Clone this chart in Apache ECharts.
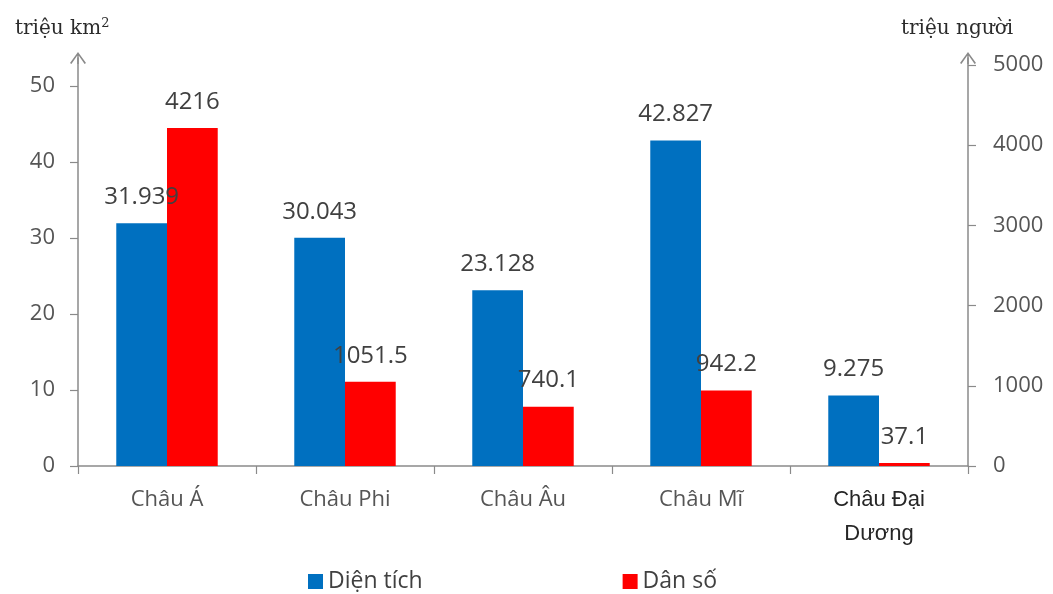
<!DOCTYPE html>
<html>
<head>
<meta charset="utf-8">
<script src="https://cdn.jsdelivr.net/npm/echarts@6/dist/echarts.min.js"></script>
<style>html,body{margin:0;padding:0;background:#fff}#c{width:1053px;height:594px}</style>
</head>
<body>
<div id="c"></div>
<script>
const categories = ['Châu Á', 'Châu Phi', 'Châu Âu', 'Châu Mĩ', 'Châu Đại\nDương'];
const areaValues = [31.939, 30.043, 23.128, 42.827, 9.275];
const populationValues = [4216, 1051.5, 740.1, 942.2, 37.1];
const leftTicks = [0, 10, 20, 30, 40, 50];
const rightTicks = [0, 1000, 2000, 3000, 4000, 5000];
const seriesNames = ['Diện tích', 'Dân số'];

const axisColor = '#8a8a8a';
const arrowPath = 'path://M0 11 L8 0 L16 11 L14.6 12 L8 2.6 L1.4 12 Z M7.3 1 L8.7 1 L8.7 12 L7.3 12 Z';
const labelFont = '"Open Sans", sans-serif';
const serifFont = '"DejaVu Serif", serif';

function yAxisBase(max, ticks, margin) {
  return {
    type: 'value', min: 0, max: max,
    splitLine: { show: false },
    axisLine: { show: true, lineStyle: { color: axisColor, width: 1.5 },
      symbol: ['none', arrowPath], symbolSize: [16, 12], symbolOffset: [0, 0] },
    axisTick: { show: true, length: 8, lineStyle: { color: axisColor, width: 1.2 }, customValues: ticks },
    axisLabel: { customValues: ticks, margin: margin, color: '#555555', fontSize: 22, fontFamily: labelFont,
      formatter: function (v) { return String(v); } }
  };
}

const nameRich = {
  a: { fontFamily: serifFont, fontSize: 20, fontWeight: 'normal', color: '#2b2b2b', lineHeight: 24 },
  s: { fontFamily: serifFont, fontSize: 13, fontWeight: 'normal', color: '#2b2b2b', lineHeight: 13, verticalAlign: 'top' }
};

const chart = echarts.init(document.getElementById('c'));
chart.setOption({
  animation: false,
  backgroundColor: '#ffffff',
  title: [
    { text: '{a|triệu km}{s|2}', left: 10, top: 12, textStyle: { fontWeight: 'normal', rich: nameRich } },
    { text: '{a|triệu người}', left: 896, top: 12, textStyle: { fontWeight: 'normal', rich: nameRich } }
  ],
  grid: { left: 78, right: 85, top: 58, bottom: 128, containLabel: false },
  legend: {
    data: seriesNames, left: 303, top: 565, itemWidth: 15, itemHeight: 15, itemGap: 200,
    icon: 'rect',
    textStyle: { fontFamily: labelFont, fontSize: 23, color: '#404040' }
  },
  xAxis: {
    type: 'category', data: categories,
    axisLine: { lineStyle: { color: axisColor, width: 1.5 } },
    axisTick: { show: true, length: 8, lineStyle: { color: axisColor, width: 1.2 } },
    axisLabel: {
      margin: 17, interval: 0, color: '#555555', fontSize: 22, fontFamily: labelFont, lineHeight: 34,
      formatter: function (v) { return v.indexOf('\n') >= 0 ? '{d|' + v + '}' : v; },
      rich: { d: { fontFamily: '"Liberation Sans", Arial, sans-serif', fontSize: 22, lineHeight: 34, color: '#262626' } }
    }
  },
  yAxis: [
    yAxisBase(50 * 408 / 380, leftTicks, 23),
    yAxisBase(5000 * 408 / 401, rightTicks, 25)
  ],
  series: [
    {
      name: seriesNames[0], type: 'bar', yAxisIndex: 0, data: areaValues,
      barWidth: '28.5%', barGap: '0%',
      itemStyle: { color: '#0070C0' },
      label: { show: true, position: 'top', distance: 14, color: '#404040', fontSize: 24, fontFamily: labelFont }
    },
    {
      name: seriesNames[1], type: 'bar', yAxisIndex: 1, data: populationValues,
      barWidth: '28.5%', barGap: '0%',
      itemStyle: { color: '#FF0000' },
      label: { show: true, position: 'top', distance: 14, color: '#404040', fontSize: 24, fontFamily: labelFont }
    }
  ]
});
</script>
</body>
</html>
